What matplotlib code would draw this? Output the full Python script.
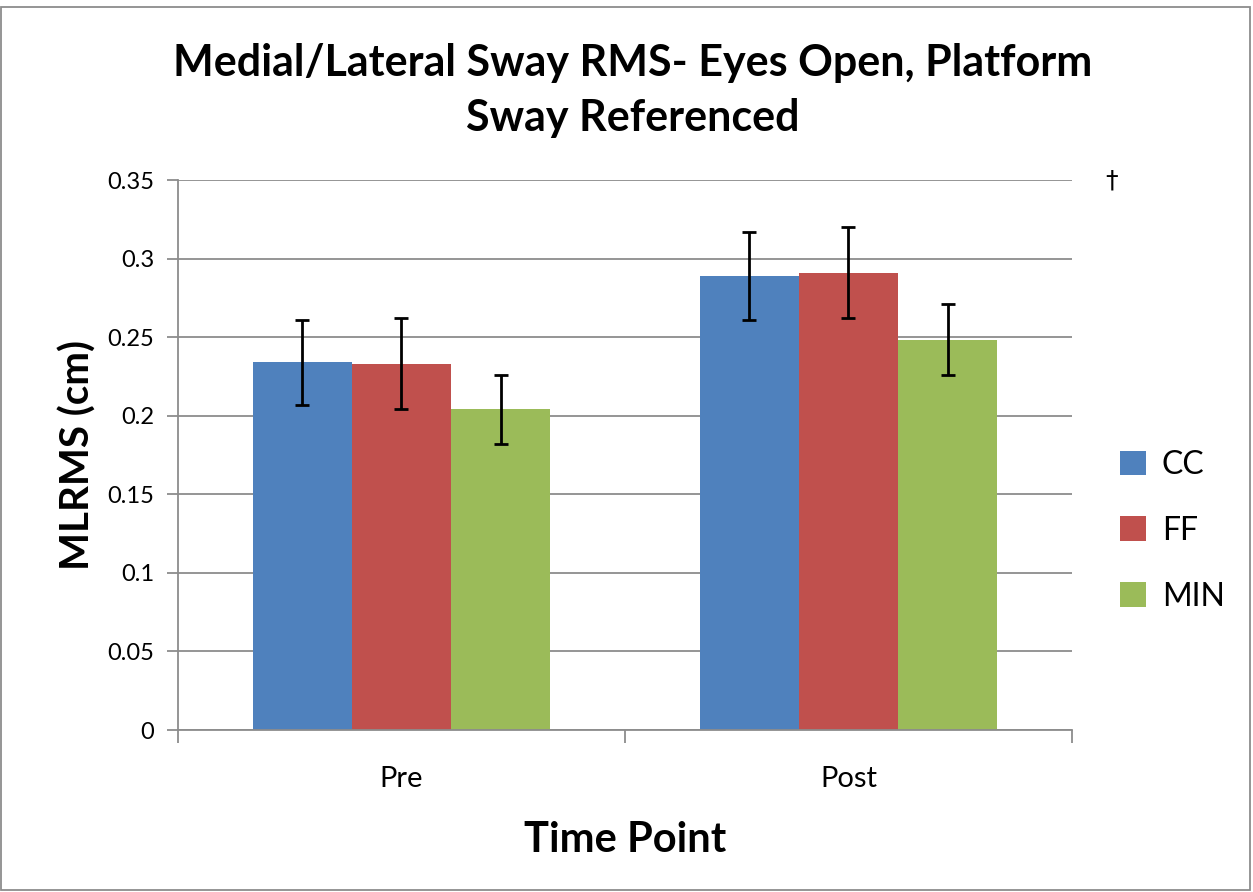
import numpy as np
import matplotlib.pyplot as plt
from matplotlib.patches import Rectangle

plt.rcParams['font.family'] = ['Lato', 'DejaVu Sans']

# data
time_points = ['Pre', 'Post']
groups = ['CC', 'FF', 'MIN']
means = {
    'CC':  [0.234, 0.289],
    'FF':  [0.233, 0.291],
    'MIN': [0.204, 0.248],
}
err_low = {
    'CC':  [0.027, 0.028],
    'FF':  [0.029, 0.029],
    'MIN': [0.022, 0.022],
}
err_high = {
    'CC':  [0.027, 0.028],
    'FF':  [0.029, 0.029],
    'MIN': [0.022, 0.023],
}
colors = {'CC': '#4F81BD', 'FF': '#C0504D', 'MIN': '#9BBB59'}

fig = plt.figure(figsize=(12.53, 8.92), dpi=100)
ax = fig.add_axes([0.142, 0.1816, 0.7135, 0.6166])

x = np.arange(len(time_points))
w = 0.222
for i, g in enumerate(groups):
    pos = x + (i - 1) * w
    ax.bar(pos, means[g], width=w, color=colors[g], label=g, zorder=2)
    ax.errorbar(pos, means[g], yerr=[err_low[g], err_high[g]], fmt='none',
                ecolor='black', elinewidth=2, capsize=5, capthick=2, zorder=3)

ax.set_xlim(-0.5, 1.5)
ax.set_ylim(0, 0.35)
ax.set_yticks(np.arange(0, 0.351, 0.05))
ax.set_yticklabels(['0', '0.05', '0.1', '0.15', '0.2', '0.25', '0.3', '0.35'])
ax.yaxis.grid(True, color='#8c8c8c', linewidth=1.3, zorder=0)
ax.set_axisbelow(True)

# category ticks sit between groups, labels at centres
ax.set_xticks([-0.5, 0.5, 1.5])
ax.set_xticklabels([])
ax.set_xticks(x, minor=True)
ax.set_xticklabels(time_points, minor=True, fontsize=21)
ax.tick_params(axis='x', which='minor', length=0, pad=26)
ax.tick_params(axis='x', which='major', length=9, color='#8c8c8c', width=1.3)
ax.tick_params(axis='y', length=8, color='#8c8c8c', width=1.3, labelsize=17, pad=9)

for s in ['top', 'right']:
    ax.spines[s].set_visible(False)
for s in ['left', 'bottom']:
    ax.spines[s].set_color('#8c8c8c')
    ax.spines[s].set_linewidth(1.3)

ax.set_ylabel('MLRMS (cm)', fontsize=29, fontweight='bold', labelpad=8)
ax.set_xlabel('Time Point', fontsize=30, fontweight='bold', labelpad=21)

fig.suptitle('Medial/Lateral Sway RMS- Eyes Open, Platform\nSway Referenced',
             x=0.505, y=0.952, fontsize=31, fontweight='bold', linespacing=1.45)

fig.text(0.887, 0.798, '\u2020', fontsize=18, ha='center', va='center',
         family=['DejaVu Sans'])

ax.legend(loc='center left', bbox_to_anchor=(0.894, 0.405),
          bbox_transform=fig.transFigure, frameon=False, fontsize=23,
          handlelength=0.8, handleheight=0.8, handletextpad=0.5,
          labelspacing=1.12, borderpad=0, borderaxespad=0)

fig.patches.append(Rectangle((0.001, 0.002), 0.997, 0.99, transform=fig.transFigure,
                             fill=False, edgecolor='#8c8c8c', linewidth=1.3))

fig.savefig('out.png', dpi=100)
